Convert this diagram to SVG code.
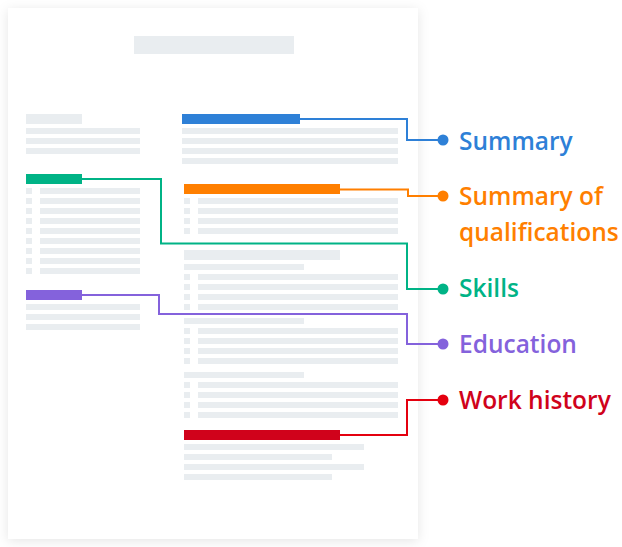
<svg xmlns="http://www.w3.org/2000/svg" width="622" height="547" viewBox="0 0 622 547">
<style>
.g{fill:#e9edf0}
.c{fill:none;stroke-width:2}
.t{font-family:"Open Sans",Lato,sans-serif;font-weight:600;font-size:24.5px}
</style>
<defs>
<filter id="sh" x="-10%" y="-10%" width="120%" height="120%">
<feDropShadow dx="0" dy="2" stdDeviation="6" flood-color="#000" flood-opacity="0.1"/>
</filter>
</defs>
<g id="page">
<rect x="8" y="8" width="410" height="531" fill="#fff" filter="url(#sh)"/>
<rect class="g" x="134" y="36" width="160" height="18"/>
<rect class="g" x="26" y="114" width="56" height="10"/>
<rect class="g" x="26" y="128" width="114" height="6"/>
<rect class="g" x="26" y="138" width="114" height="6"/>
<rect class="g" x="26" y="148" width="114" height="6"/>
<rect class="g" x="182" y="128" width="216" height="6"/>
<rect class="g" x="182" y="138" width="216" height="6"/>
<rect class="g" x="182" y="148" width="216" height="6"/>
<rect class="g" x="182" y="158" width="216" height="6"/>
<g id="skillrows">
<rect class="g" x="26" y="188" width="6" height="6"/><rect class="g" x="40" y="188" width="100" height="6"/>
<rect class="g" x="26" y="198" width="6" height="6"/><rect class="g" x="40" y="198" width="100" height="6"/>
<rect class="g" x="26" y="208" width="6" height="6"/><rect class="g" x="40" y="208" width="100" height="6"/>
<rect class="g" x="26" y="218" width="6" height="6"/><rect class="g" x="40" y="218" width="100" height="6"/>
<rect class="g" x="26" y="228" width="6" height="6"/><rect class="g" x="40" y="228" width="100" height="6"/>
<rect class="g" x="26" y="238" width="6" height="6"/><rect class="g" x="40" y="238" width="100" height="6"/>
<rect class="g" x="26" y="248" width="6" height="6"/><rect class="g" x="40" y="248" width="100" height="6"/>
<rect class="g" x="26" y="258" width="6" height="6"/><rect class="g" x="40" y="258" width="100" height="6"/>
<rect class="g" x="26" y="268" width="6" height="6"/><rect class="g" x="40" y="268" width="100" height="6"/>
</g>
<rect class="g" x="26" y="304" width="114" height="6"/>
<rect class="g" x="26" y="314" width="114" height="6"/>
<rect class="g" x="26" y="324" width="114" height="6"/>
<g id="qualrows">
<rect class="g" x="184" y="198" width="6" height="6"/><rect class="g" x="198" y="198" width="200" height="6"/>
<rect class="g" x="184" y="208" width="6" height="6"/><rect class="g" x="198" y="208" width="200" height="6"/>
<rect class="g" x="184" y="218" width="6" height="6"/><rect class="g" x="198" y="218" width="200" height="6"/>
<rect class="g" x="184" y="228" width="6" height="6"/><rect class="g" x="198" y="228" width="200" height="6"/>
</g>
<rect class="g" x="184" y="250" width="156" height="10"/>
<rect class="g" x="184" y="264" width="120" height="6"/>
<g id="rowsA">
<rect class="g" x="184" y="274" width="6" height="6"/><rect class="g" x="198" y="274" width="200" height="6"/>
<rect class="g" x="184" y="284" width="6" height="6"/><rect class="g" x="198" y="284" width="200" height="6"/>
<rect class="g" x="184" y="294" width="6" height="6"/><rect class="g" x="198" y="294" width="200" height="6"/>
<rect class="g" x="184" y="304" width="6" height="6"/><rect class="g" x="198" y="304" width="200" height="6"/>
</g>
<rect class="g" x="184" y="318" width="120" height="6"/>
<g id="rowsB">
<rect class="g" x="184" y="328" width="6" height="6"/><rect class="g" x="198" y="328" width="200" height="6"/>
<rect class="g" x="184" y="338" width="6" height="6"/><rect class="g" x="198" y="338" width="200" height="6"/>
<rect class="g" x="184" y="348" width="6" height="6"/><rect class="g" x="198" y="348" width="200" height="6"/>
<rect class="g" x="184" y="358" width="6" height="6"/><rect class="g" x="198" y="358" width="200" height="6"/>
</g>
<rect class="g" x="184" y="372" width="120" height="6"/>
<g id="rowsC">
<rect class="g" x="184" y="382" width="6" height="6"/><rect class="g" x="198" y="382" width="200" height="6"/>
<rect class="g" x="184" y="392" width="6" height="6"/><rect class="g" x="198" y="392" width="200" height="6"/>
<rect class="g" x="184" y="402" width="6" height="6"/><rect class="g" x="198" y="402" width="200" height="6"/>
<rect class="g" x="184" y="412" width="6" height="6"/><rect class="g" x="198" y="412" width="200" height="6"/>
</g>
<rect class="g" x="184" y="444" width="180" height="6"/>
<rect class="g" x="184" y="454" width="148" height="6"/>
<rect class="g" x="184" y="464" width="180" height="6"/>
<rect class="g" x="184" y="474" width="148" height="6"/>
</g>
<g id="bar-summary"><rect x="182" y="114" width="118" height="10" fill="#2e80d7"/></g>
<g id="bar-qualifications"><rect x="184" y="184" width="156" height="10" fill="#ff7f00"/></g>
<g id="bar-skills"><rect x="26" y="174" width="56" height="10" fill="#00b386"/></g>
<g id="bar-education"><rect x="26" y="290" width="56" height="10" fill="#8462dc"/></g>
<g id="bar-work"><rect x="184" y="430" width="156" height="10" fill="#d0021b"/></g>
<g id="connectors">
<polyline class="c" stroke="#2e80d7" points="300,119 407,119 407,140 443,140"/>
<polyline class="c" stroke="#ff7f00" points="340,189.5 408,189.5 408,196 443,196"/>
<polyline class="c" stroke="#00b386" points="82,179 161,179 161,243.5 407,243.5 407,289 443,289"/>
<polyline class="c" stroke="#8462dc" points="82,295 159,295 159,314 407,314 407,344 443,344"/>
<polyline class="c" stroke="#e4000f" points="340,435 407,435 407,400 443,400"/>
<circle cx="443" cy="140" r="5.5" fill="#2e80d7"/>
<circle cx="443" cy="196" r="5.5" fill="#ff7f00"/>
<circle cx="443" cy="289" r="5.5" fill="#00b386"/>
<circle cx="443" cy="344" r="5.5" fill="#8462dc"/>
<circle cx="443" cy="400" r="5.5" fill="#e4000f"/>
</g>
<g id="label-summary"><text class="t" x="459" y="150" fill="#2e80d7">Summary</text></g>
<g id="label-qualifications"><text class="t" x="459" y="205" fill="#ff7f00">Summary of</text><text class="t" x="459" y="241" fill="#ff7f00">qualifications</text></g>
<g id="label-skills"><text class="t" x="459" y="297" fill="#00b386">Skills</text></g>
<g id="label-education"><text class="t" x="459" y="353" fill="#8462dc">Education</text></g>
<g id="label-work"><text class="t" x="459" y="409" fill="#d0021b">Work history</text></g>
</svg>
